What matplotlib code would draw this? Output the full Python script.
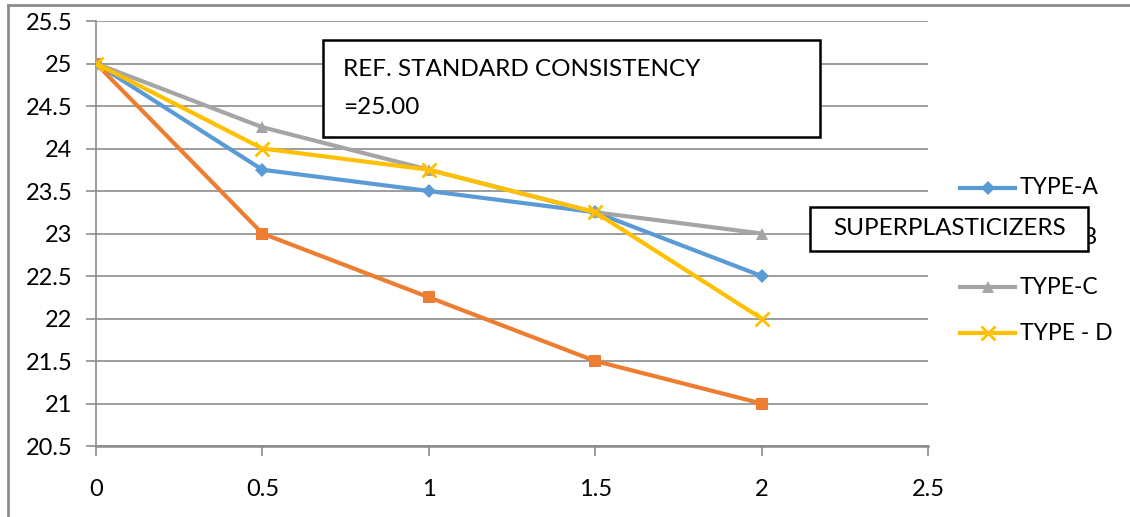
import matplotlib
matplotlib.use("Agg")
import matplotlib.pyplot as plt
from matplotlib.lines import Line2D
from matplotlib.patches import Rectangle

plt.rcParams['font.family'] = ['Lato', 'DejaVu Sans']

# Dosage of superplasticizer (%) and resulting consistency (%)
dosage = [0, 0.5, 1, 1.5, 2]
type_a = [25, 23.75, 23.5, 23.25, 22.5]
type_b = [25, 23, 22.25, 21.5, 21]
type_c = [25, 24.25, 23.75, 23.25, 23]
type_d = [25, 24, 23.75, 23.25, 22]
series_names = ["TYPE-A", "TYPE-B", "TYPE-C", "TYPE - D"]
x_ticks = [0, 0.5, 1, 1.5, 2, 2.5]
y_ticks = [20.5, 21, 21.5, 22, 22.5, 23, 23.5, 24, 24.5, 25, 25.5]

colors = ["#5B9BD5", "#ED7D31", "#A5A5A5", "#FFC000"]
markers = ["D", "s", "^", "x"]
msizes = [7, 9, 9, 10]
FS = 17

W, H = 1130, 517
fig = plt.figure(figsize=(W / 100, H / 100), dpi=100)
ax = fig.add_axes([96 / W, 1 - 446 / H, (928 - 96) / W, (446 - 21) / H])

for ys, c, m, ms in zip([type_a, type_b, type_c, type_d], colors, markers, msizes):
    ax.plot(dosage, ys, color=c, lw=3, marker=m, markersize=ms,
            markeredgewidth=2 if m == "x" else 0, markeredgecolor=c,
            solid_joinstyle="round", zorder=3)

ax.set_xlim(0, 2.5)
ax.set_ylim(20.5, 25.5)
ax.set_xticks(x_ticks)
ax.set_xticklabels([f"{v:g}" for v in x_ticks])
ax.set_yticks(y_ticks)
ax.set_yticklabels([f"{v:g}" for v in y_ticks])
ax.yaxis.grid(True, color="#8C8C8C", lw=1.2)
ax.set_axisbelow(True)
for s in ["top", "right"]:
    ax.spines[s].set_visible(False)
ax.spines["left"].set_color("#8C8C8C")
ax.spines["left"].set_linewidth(1.2)
ax.spines["bottom"].set_color("#8C8C8C")
ax.spines["bottom"].set_linewidth(1.8)
ax.tick_params(axis="both", colors="#8C8C8C", labelcolor="black",
               labelsize=FS, length=7, width=1.2)
ax.tick_params(axis="x", pad=17)
ax.tick_params(axis="y", pad=10)

# Legend entries drawn in figure pixel coordinates
legend_y = [188, 237, 287, 333]
for name, c, m, ms, ly in zip(series_names, colors, markers, msizes, legend_y):
    yy = 1 - ly / H
    fig.add_artist(Line2D([960 / W, 1015 / W], [yy, yy], color=c, lw=3,
                          transform=fig.transFigure))
    fig.add_artist(Line2D([987.5 / W], [yy], color=c, marker=m, markersize=ms,
                          markeredgewidth=2 if m == "x" else 0,
                          markeredgecolor=c, transform=fig.transFigure))
    fig.text(1020 / W, yy, name, fontsize=FS - 0.5, va="center", ha="left")

# Text boxes
def text_box(x0, y0, x1, y1):
    fig.add_artist(Rectangle((x0 / W, 1 - y1 / H), (x1 - x0) / W, (y1 - y0) / H,
                             transform=fig.transFigure, facecolor="white",
                             edgecolor="black", lw=1.8, zorder=10))

text_box(323, 40, 820, 137)
fig.text(343 / W, 1 - 70 / H, "REF. STANDARD CONSISTENCY", fontsize=FS + 0.5,
         va="center", ha="left", zorder=11)
fig.text(343 / W, 1 - 108 / H, "=25.00", fontsize=FS + 0.5, va="center", ha="left",
         zorder=11)

text_box(810, 207, 1088, 251)
fig.text(950 / W, 1 - 228 / H, "SUPERPLASTICIZERS", fontsize=FS + 0.5,
         va="center", ha="center", zorder=11)

# Outer frame
fig.add_artist(Line2D([8 / W, 1], [1 - 5 / H, 1 - 5 / H], color="#8C8C8C",
                      lw=2, transform=fig.transFigure))
fig.add_artist(Line2D([8 / W, 8 / W], [0, 1 - 5 / H], color="#8C8C8C",
                      lw=2, transform=fig.transFigure))

fig.savefig("out.png", dpi=100, facecolor="white")
